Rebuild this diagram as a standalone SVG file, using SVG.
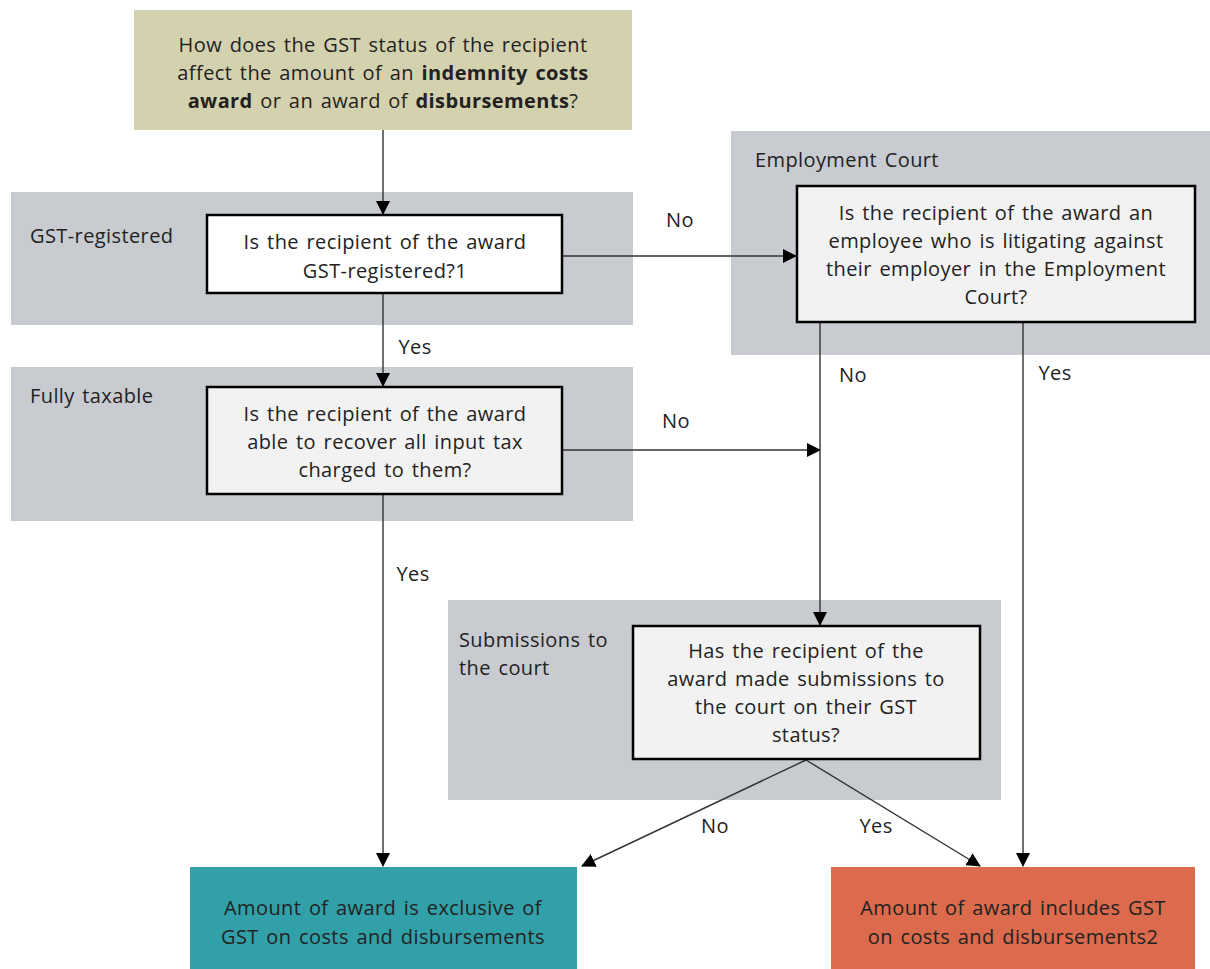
<svg xmlns="http://www.w3.org/2000/svg" width="1210" height="969" viewBox="0 0 1210 969">
<defs>
<marker id="ah" markerWidth="14" markerHeight="14" viewBox="0 0 14 14" refX="13" refY="7" orient="auto" markerUnits="userSpaceOnUse">
<path d="M0,0 L14,7 L0,14 Z" fill="#000"/>
</marker>
<style>
text{font-family:"Open Sans","Noto Sans","Liberation Sans",sans-serif;font-size:20px;fill:#222;letter-spacing:0.4px;word-spacing:2px;}
.c{text-anchor:middle;}
.b{font-weight:bold;}
.band{fill:#c8cbd0;}
.q{fill:#f2f2f2;stroke:#000;stroke-width:2.5;}
.con{stroke:#333;stroke-width:1.4;fill:none;marker-end:url(#ah);}
</style>
</defs>
<rect width="1210" height="969" fill="#fff"/>
<g id="bands">
<rect class="band" x="11" y="192" width="622" height="133"/>
<rect class="band" x="731" y="131" width="479" height="224"/>
<rect class="band" x="11" y="367" width="622" height="154"/>
<rect class="band" x="448" y="600" width="553" height="200"/>
<text x="30" y="243">GST-registered</text>
<text x="755" y="167">Employment Court</text>
<text x="30" y="403">Fully taxable</text>
<text x="459" y="647">Submissions to</text>
<text x="459" y="675">the court</text>
</g>
<g id="connectors">
<line class="con" x1="383" y1="130" x2="383" y2="214"/>
<line class="con" x1="562" y1="256" x2="796" y2="256"/>
<line class="con" x1="383" y1="293" x2="383" y2="386"/>
<line class="con" x1="562" y1="450" x2="820" y2="450"/>
<line class="con" x1="820" y1="322" x2="820" y2="625"/>
<line class="con" x1="1023" y1="322" x2="1023" y2="866"/>
<line class="con" x1="383" y1="494" x2="383" y2="866"/>
<line class="con" x1="806" y1="760" x2="582" y2="866"/>
<line class="con" x1="806" y1="760" x2="980" y2="866"/>
<text x="680" y="227" class="c">No</text>
<text x="415" y="354" class="c">Yes</text>
<text x="676" y="428" class="c">No</text>
<text x="853" y="382" class="c">No</text>
<text x="1055" y="380" class="c">Yes</text>
<text x="413" y="581" class="c">Yes</text>
<text x="715" y="833" class="c">No</text>
<text x="876" y="833" class="c">Yes</text>
</g>
<g id="start">
<rect x="134" y="10" width="498" height="120" fill="#d4d2ae"/>
<text x="383" y="52" class="c">How does the GST status of the recipient</text>
<text x="383" y="80" class="c">affect the amount of an <tspan class="b">indemnity costs</tspan></text>
<text x="383" y="108" class="c"><tspan class="b">award</tspan> or an award of <tspan class="b">disbursements</tspan>?</text>
</g>
<g id="q1">
<rect class="q" x="207" y="215" width="355" height="78" style="fill:#fff"/>
<text x="385" y="249" class="c">Is the recipient of the award</text>
<text x="385" y="278" class="c">GST-registered?1</text>
</g>
<g id="q2">
<rect class="q" x="797" y="186" width="398" height="136"/>
<text x="996" y="220" class="c">Is the recipient of the award an</text>
<text x="996" y="248" class="c">employee who is litigating against</text>
<text x="996" y="276" class="c">their employer in the Employment</text>
<text x="996" y="304" class="c">Court?</text>
</g>
<g id="q3">
<rect class="q" x="207" y="387" width="355" height="107"/>
<text x="385" y="421" class="c">Is the recipient of the award</text>
<text x="385" y="449" class="c">able to recover all input tax</text>
<text x="385" y="477" class="c">charged to them?</text>
</g>
<g id="q4">
<rect class="q" x="633" y="626" width="347" height="133"/>
<text x="806" y="658" class="c">Has the recipient of the</text>
<text x="806" y="686" class="c">award made submissions to</text>
<text x="806" y="714" class="c">the court on their GST</text>
<text x="806" y="742" class="c">status?</text>
</g>
<g id="exclusive">
<rect x="190" y="867" width="387" height="102" fill="#32a0a8"/>
<text x="383" y="915" class="c">Amount of award is exclusive of</text>
<text x="383" y="944" class="c">GST on costs and disbursements</text>
</g>
<g id="includes">
<rect x="831" y="867" width="364" height="102" fill="#dc6a4c"/>
<text x="1013" y="915" class="c">Amount of award includes GST</text>
<text x="1013" y="944" class="c">on costs and disbursements2</text>
</g>
</svg>
